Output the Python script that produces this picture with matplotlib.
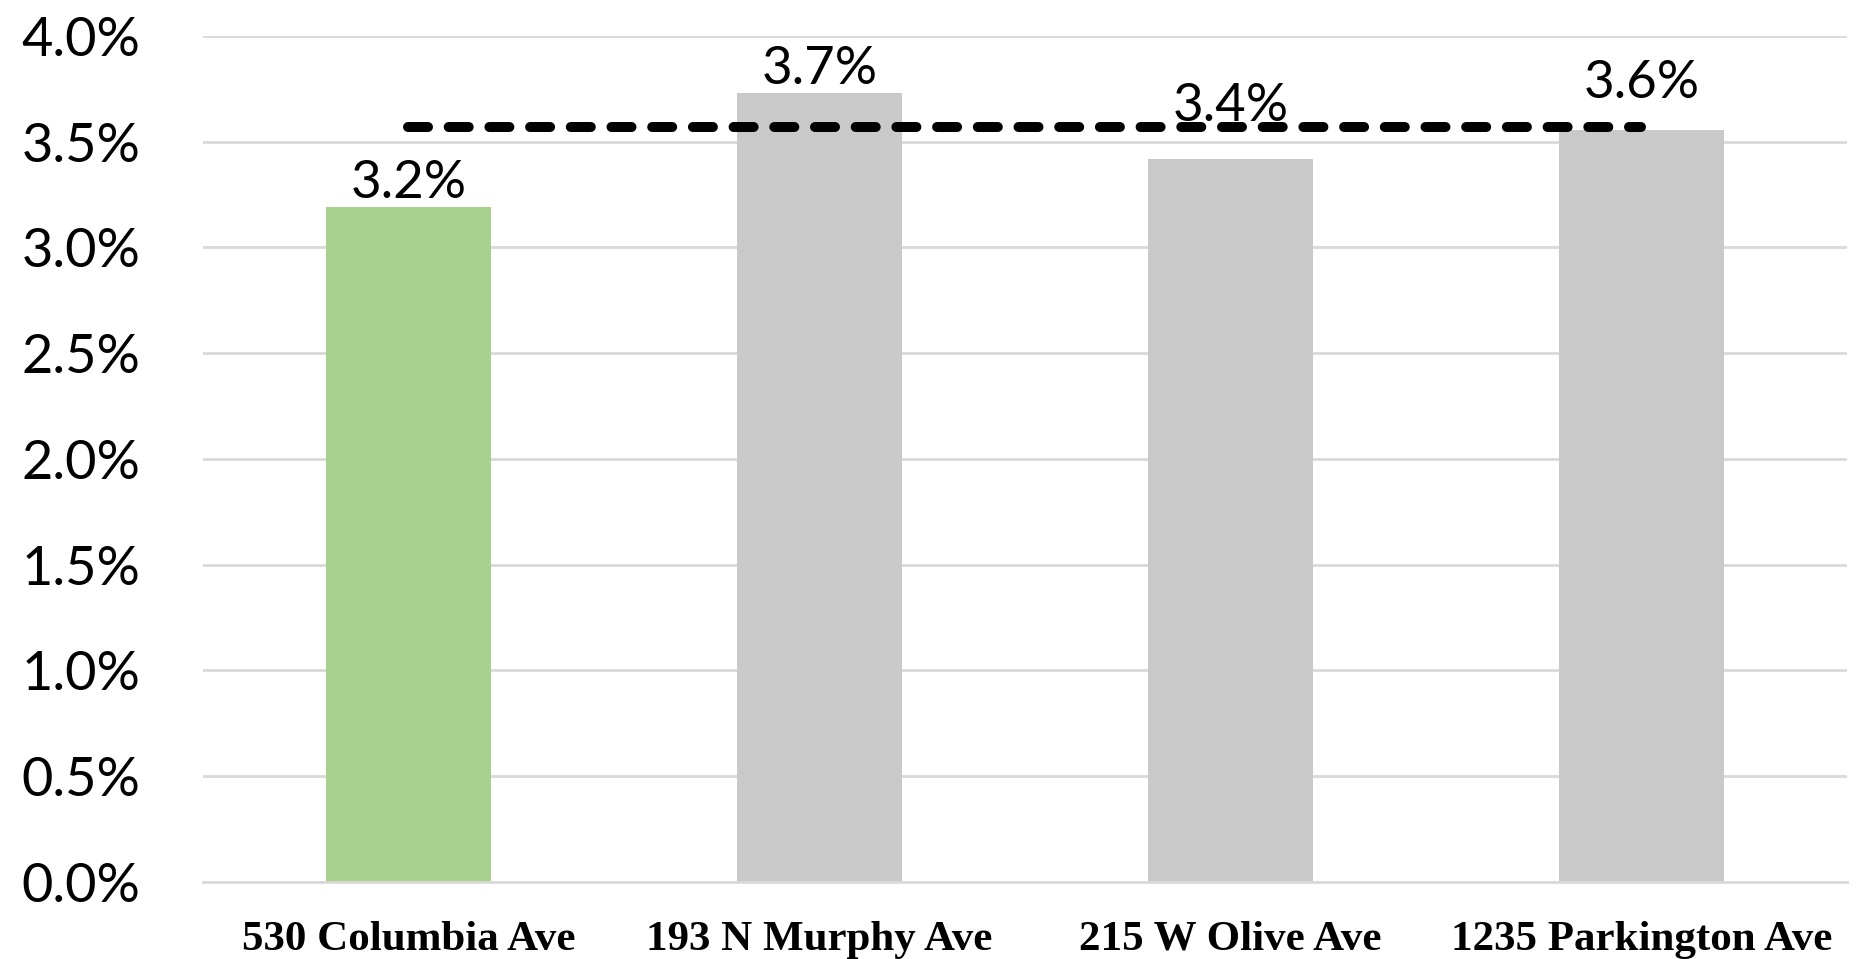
import numpy as np
import matplotlib
matplotlib.use("Agg")
import matplotlib.pyplot as plt
from matplotlib.ticker import FuncFormatter

# Cap rates by property
properties = ["530 Columbia Ave", "193 N Murphy Ave", "215 W Olive Ave", "1235 Parkington Ave"]
cap_rates = [3.19, 3.73, 3.42, 3.555]
bar_colors = ["#A9D18E", "#C9C9C9", "#C9C9C9", "#C9C9C9"]

# average of the comparables (everything except the subject property)
comp_avg = np.mean(cap_rates[1:])

fig = plt.figure(figsize=(18.6, 9.59), dpi=100)
ax = fig.add_axes([0.1091, 0.0803, 0.8839, 0.8822])

x = np.arange(len(properties))
bars = ax.bar(x, cap_rates, width=0.40, color=bar_colors, zorder=2)

# value labels above each bar (last two nudged up a bit)
label_lift = [0.0, 0.0, 0.135, 0.11]
for xi, v, dy in zip(x, cap_rates, label_lift):
    ax.text(xi, v + dy, f"{v:.1f}%", ha="center", va="bottom",
            fontsize=38, family="Lato", color="black", zorder=4)

# dashed line for comp average
ax.plot([0, len(properties) - 1], [comp_avg, comp_avg], color="black",
        lw=7.2, dashes=(2.0, 2.07), dash_capstyle="round", zorder=3)

ax.set_xlim(-0.5, len(properties) - 0.5)
ax.set_ylim(0, 4.0)
ax.set_yticks(np.arange(0, 4.01, 0.5))
ax.yaxis.set_major_formatter(FuncFormatter(lambda v, _: f"{v:.1f}%"))
ax.set_xticks(x)
ax.set_xticklabels(properties, family="Liberation Serif", fontweight="bold", fontsize=31)

ax.tick_params(axis="y", length=0, pad=45, labelsize=39)
ax.tick_params(axis="x", length=0, pad=28)
for lbl in ax.get_yticklabels():
    lbl.set_family("Lato")

ax.grid(axis="y", color="#D9D9D9", lw=2, zorder=0)
ax.set_axisbelow(True)
for side in ["top", "right", "left"]:
    ax.spines[side].set_visible(False)
ax.spines["bottom"].set_color("#D9D9D9")
ax.spines["bottom"].set_linewidth(2)

fig.savefig("out.png", dpi=100)
